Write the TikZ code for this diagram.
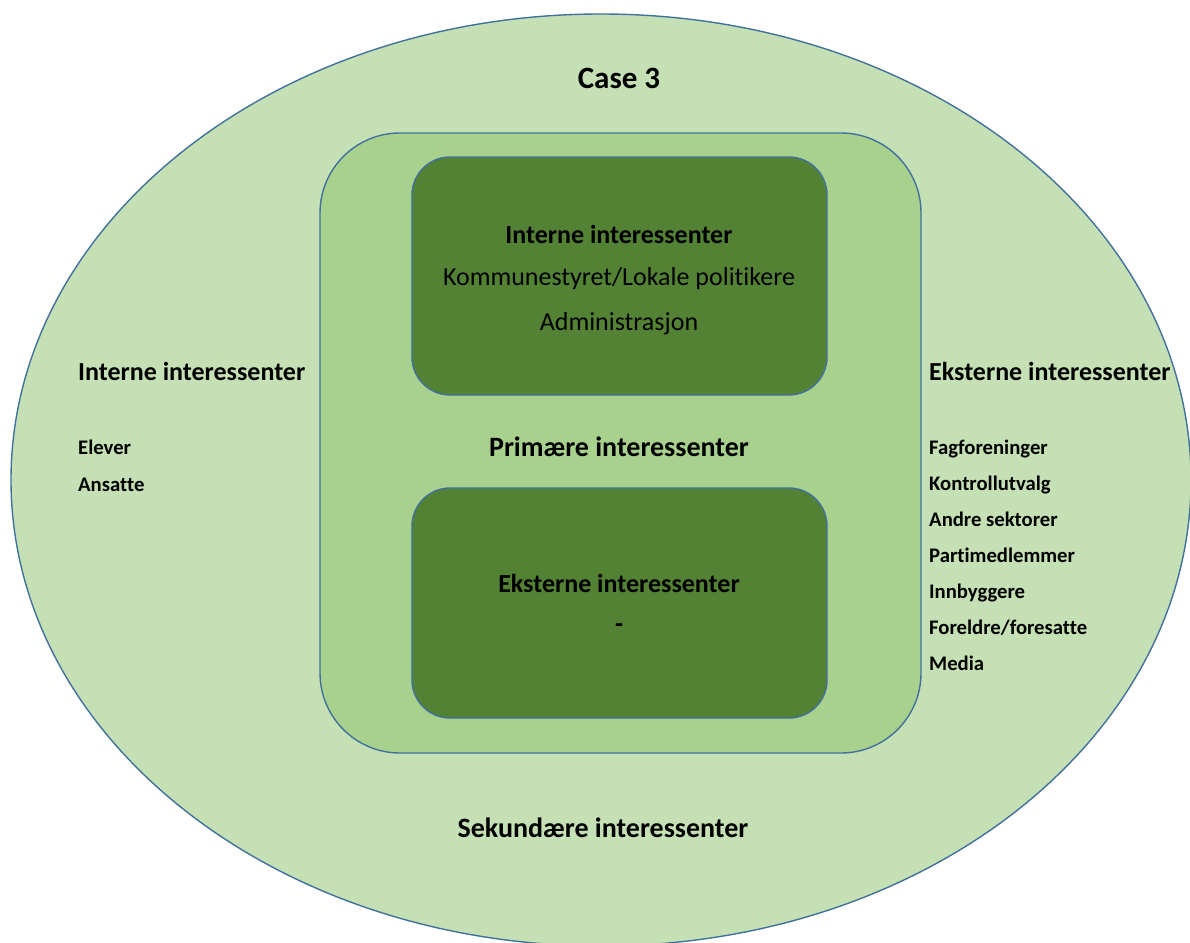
\documentclass[tikz,border=0pt]{standalone}
\usepackage{fontspec}
\setmainfont{Carlito}[Ligatures={NoCommon}]
\begin{document}
\begin{tikzpicture}[x=1pt,y=-1pt,
  outline/.style={draw=edgeblue,line width=1.4pt},
  headtxt/.style={font=\bfseries\fontsize{26}{31}\selectfont},
  plaintxt/.style={font=\fontsize{26}{31}\selectfont},
  bigtxt/.style={font=\bfseries\fontsize{28}{33}\selectfont},
  listtxt/.style={font=\bfseries\fontsize{20.7}{24}\selectfont,anchor=mid west,inner sep=0pt}]
\definecolor{edgeblue}{HTML}{41719C}
\definecolor{paleg}{HTML}{C5E0B4}
\definecolor{midg}{HTML}{A9D18E}
\definecolor{darkg}{HTML}{548235}
\useasboundingbox (0,0) rectangle (1190,942);
\clip (0,0) rectangle (1190,942);

% secondary stakeholders: outer ellipse
\path[outline,fill=paleg] (601,480) ellipse [x radius=590,y radius=466];
% primary stakeholders: rounded frame
\path[outline,fill=midg,rounded corners=80pt] (320,133) rectangle (921,753);
% inner boxes
\node[outline,fill=darkg,rounded corners=38pt,minimum width=415pt,minimum height=238pt] (intbox) at (619.5,276) {};
\node[outline,fill=darkg,rounded corners=38pt,minimum width=415pt,minimum height=230pt] (extbox) at (619.5,603) {};

% titles
\node[font=\bfseries\fontsize{31}{36}\selectfont] (case) at (619,78) {Case 3};
\node[headtxt] (inthead) at (619,234) {Interne interessenter};
\node[plaintxt] (kom) at (619,279) {Kommunestyret/Lokale politikere};
\node[plaintxt] (adm) at (619,324) {Administrasjon};
\node[bigtxt] (prim) at (619,447) {Primære interessenter};
\node[headtxt] (exthead) at (619,583) {Eksterne interessenter};
\node[headtxt] (extdash) at (619,628) {-};
\node[bigtxt] (sek) at (603,828) {Sekundære interessenter};

% left column: internal secondary stakeholders
\node[headtxt,anchor=mid west,inner sep=0pt] (lhead) at (78,378) {Interne interessenter};
\node[listtxt] (l1) at (78,452) {Elever};
\node[listtxt] (l2) at (78,489) {Ansatte};

% right column: external secondary stakeholders
\node[headtxt,anchor=mid west,inner sep=0pt] (rhead) at (929,378) {Eksterne interessenter};
\node[listtxt] (r1) at (929,452) {Fagforeninger};
\node[listtxt] (r2) at (929,488) {Kontrollutvalg};
\node[listtxt] (r3) at (929,524) {Andre sektorer};
\node[listtxt] (r4) at (929,560) {Partimedlemmer};
\node[listtxt] (r5) at (929,596) {Innbyggere};
\node[listtxt] (r6) at (929,632) {Foreldre/foresatte};
\node[listtxt] (r7) at (929,668) {Media};
\end{tikzpicture}
\end{document}
